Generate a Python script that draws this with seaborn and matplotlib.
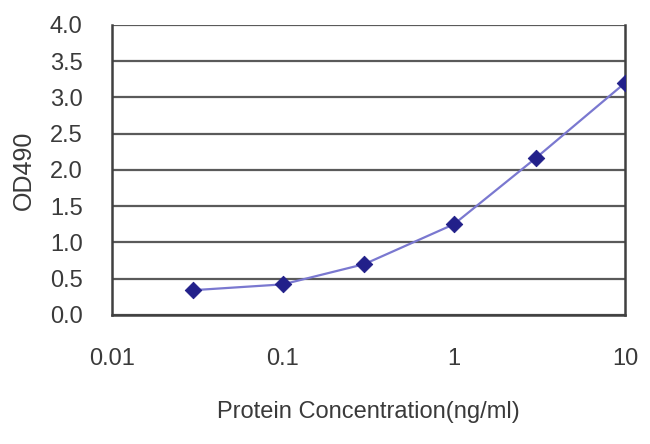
import pandas as pd
import seaborn as sns
import matplotlib.pyplot as plt

concentration = [0.03, 0.1, 0.3, 1, 3, 10]
od490 = [0.34, 0.42, 0.70, 1.25, 2.16, 3.20]
x_ticks = [0.01, 0.1, 1, 10]
x_tick_labels = ["0.01", "0.1", "1", "10"]
y_ticks = [0.0, 0.5, 1.0, 1.5, 2.0, 2.5, 3.0, 3.5, 4.0]

df = pd.DataFrame({"conc": concentration, "od": od490})

sns.set_style("white")
plt.rcParams['font.family'] = ['Liberation Sans', 'DejaVu Sans']

fig = plt.figure(figsize=(6.5, 4.44), dpi=100)
ax = fig.add_axes([0.172, 0.291, 0.7895, 0.6527])

## Horizontal gridlines....
for y in y_ticks:
    ax.axhline(y, color="#5a5a5a", lw=1.6, zorder=1)

## The curve and markers....
sns.lineplot(data=df, x="conc", y="od", ax=ax, color="#7a78d0", lw=1.6, zorder=3)
sns.scatterplot(data=df, x="conc", y="od", ax=ax, marker="D", s=70,
                color="#22208a", edgecolor="#22208a", zorder=4)

ax.set_xscale("log")
ax.set_xlim(0.01, 10)
ax.set_ylim(0, 4.0)
ax.set_xticks(x_ticks)
ax.set_xticklabels(x_tick_labels)
ax.minorticks_off()
ax.set_yticks(y_ticks)
ax.set_yticklabels([f"{v:.1f}" for v in y_ticks])

ax.tick_params(axis="x", direction="in", length=5, width=1.5, color="#404040",
               labelsize=17, labelcolor="#3a3a3a", pad=24)
ax.tick_params(axis="y", length=0, labelsize=17, labelcolor="#3a3a3a", pad=21)

for side in ["left", "bottom", "right"]:
    ax.spines[side].set_color("#404040")
    ax.spines[side].set_linewidth(1.8)
ax.spines["top"].set_visible(False)

ax.set_xlabel("Protein Concentration(ng/ml)", fontsize=17, color="#3a3a3a", labelpad=22)
ax.set_ylabel("OD490", fontsize=18, color="#3a3a3a", labelpad=10)

plt.savefig("out.png", dpi=100)
plt.close()
